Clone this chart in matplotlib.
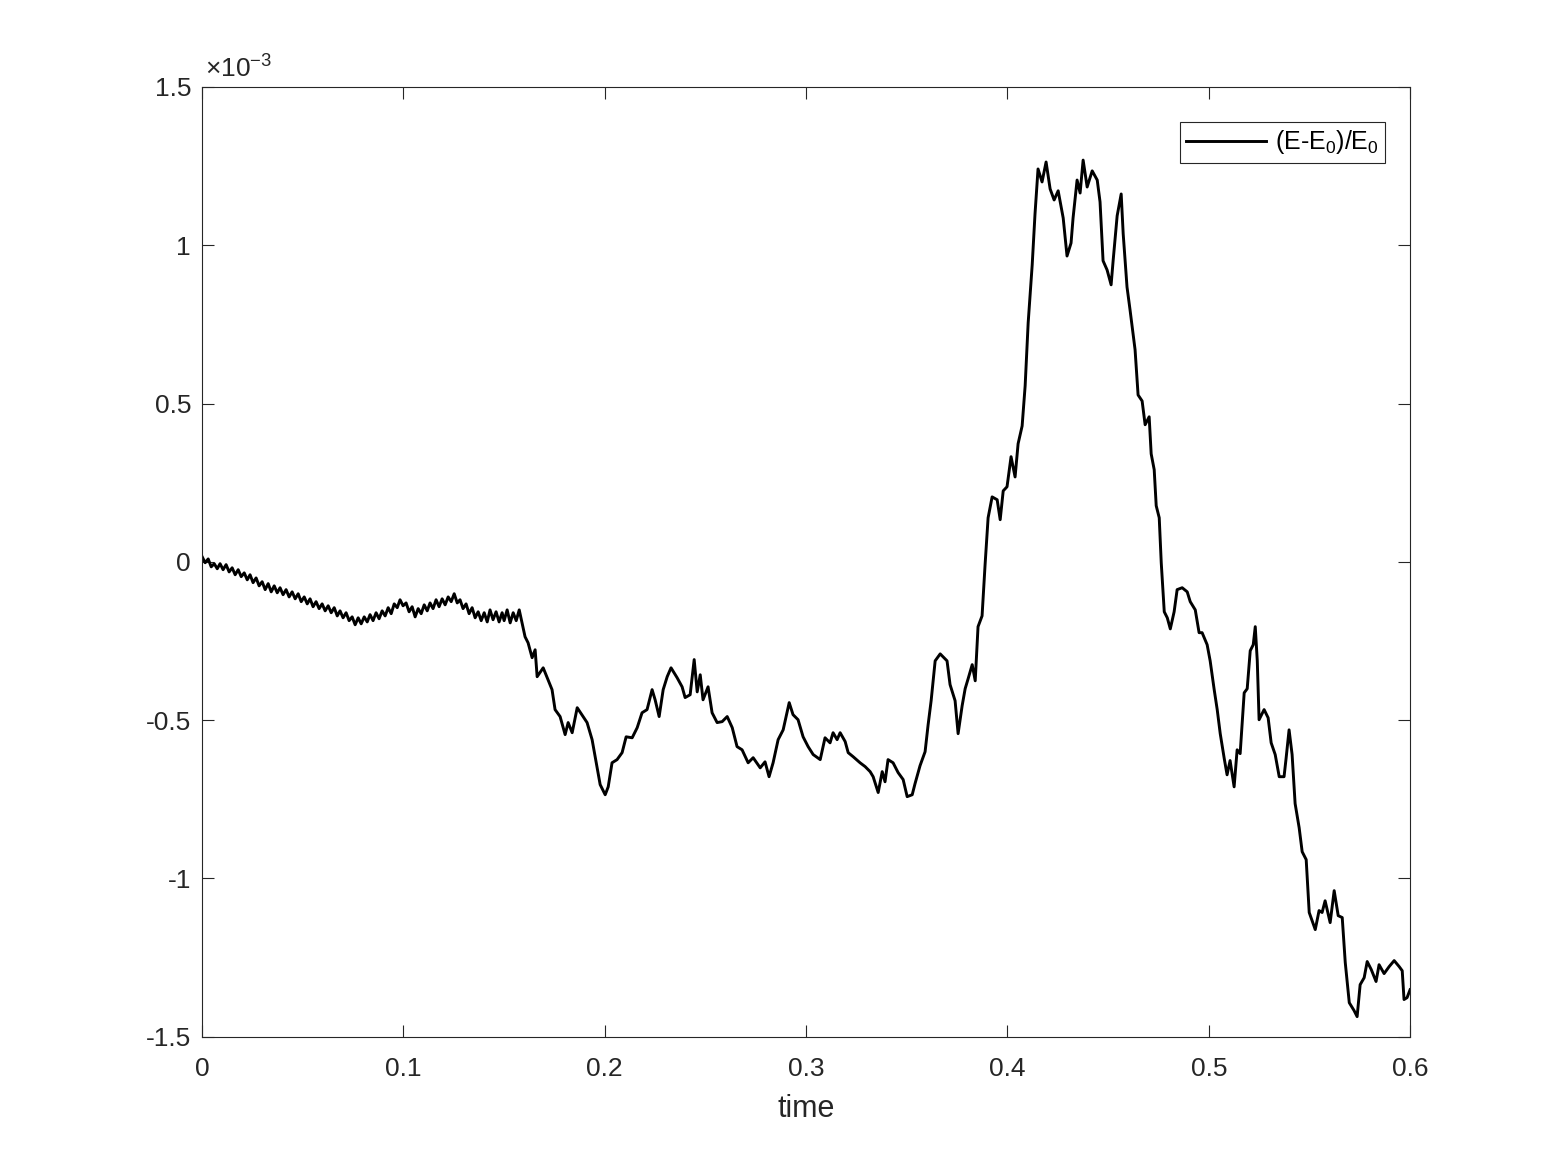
import matplotlib
matplotlib.use("Agg")
import matplotlib.pyplot as plt
from matplotlib.ticker import FuncFormatter

plt.rcParams['font.family'] = ['Liberation Sans', 'DejaVu Sans']
plt.rcParams['mathtext.fontset'] = 'custom'
plt.rcParams['mathtext.rm'] = 'Liberation Sans'
plt.rcParams['mathtext.it'] = 'Liberation Sans'
plt.rcParams['axes.unicode_minus'] = False

# time values
time = [
    0.0000, 0.0015, 0.0030, 0.0045, 0.0060, 0.0075, 0.0089, 0.0104, 0.0119, 0.0134,
    0.0149, 0.0164, 0.0179, 0.0194, 0.0209, 0.0224, 0.0238, 0.0253, 0.0268, 0.0283,
    0.0298, 0.0313, 0.0328, 0.0343, 0.0358, 0.0373, 0.0387, 0.0402, 0.0417, 0.0432,
    0.0447, 0.0462, 0.0477, 0.0492, 0.0507, 0.0522, 0.0536, 0.0551, 0.0566, 0.0581,
    0.0596, 0.0611, 0.0626, 0.0641, 0.0656, 0.0671, 0.0685, 0.0700, 0.0715, 0.0730,
    0.0745, 0.0760, 0.0775, 0.0790, 0.0805, 0.0820, 0.0834, 0.0849, 0.0864, 0.0879,
    0.0894, 0.0909, 0.0924, 0.0939, 0.0954, 0.0969, 0.0983, 0.0998, 0.1013, 0.1028,
    0.1043, 0.1058, 0.1073, 0.1088, 0.1103, 0.1118, 0.1132, 0.1147, 0.1162, 0.1177,
    0.1192, 0.1207, 0.1222, 0.1237, 0.1252, 0.1267, 0.1281, 0.1296, 0.1311, 0.1326,
    0.1341, 0.1356, 0.1371, 0.1386, 0.1401, 0.1416, 0.1430, 0.1445, 0.1460, 0.1475,
    0.1490, 0.1500, 0.1515, 0.1530, 0.1545, 0.1560, 0.1575, 0.1589, 0.1604,
    0.1619, 0.1639, 0.1654, 0.1664, 0.1694, 0.1714, 0.1738, 0.1753, 0.1778, 0.1803,
    0.1818, 0.1838, 0.1863, 0.1892, 0.1912, 0.1937, 0.1952, 0.1977, 0.2002, 0.2017,
    0.2036, 0.2061, 0.2086, 0.2106, 0.2136, 0.2161, 0.2185, 0.2210, 0.2235, 0.2250,
    0.2270, 0.2290, 0.2310, 0.2329, 0.2359, 0.2384, 0.2399, 0.2424, 0.2444, 0.2459,
    0.2474, 0.2488, 0.2513, 0.2533, 0.2558, 0.2583, 0.2608, 0.2633, 0.2657, 0.2682,
    0.2712, 0.2737, 0.2772, 0.2796, 0.2816, 0.2836, 0.2861, 0.2886, 0.2916, 0.2935,
    0.2960, 0.2985, 0.3010, 0.3035, 0.3070, 0.3094, 0.3119, 0.3134, 0.3154, 0.3169,
    0.3194, 0.3209, 0.3234, 0.3268, 0.3293, 0.3318, 0.3333, 0.3358, 0.3378, 0.3392,
    0.3407, 0.3432, 0.3457, 0.3482, 0.3502, 0.3527,
    0.3541, 0.3566, 0.3591, 0.3606, 0.3621, 0.3641, 0.3666, 0.3700, 0.3715, 0.3740,
    0.3755, 0.3775, 0.3790, 0.3805, 0.3825, 0.3840, 0.3854, 0.3874, 0.3889, 0.3904,
    0.3924, 0.3949, 0.3964, 0.3979, 0.3998, 0.4018, 0.4038, 0.4053, 0.4073, 0.4088,
    0.4103, 0.4123, 0.4137, 0.4152, 0.4172, 0.4192, 0.4212, 0.4232, 0.4252, 0.4277,
    0.4296, 0.4316, 0.4326, 0.4346, 0.4361, 0.4376, 0.4396, 0.4421, 0.4446, 0.4460,
    0.4475, 0.4495, 0.4515, 0.4525, 0.4545, 0.4565, 0.4575, 0.4594, 0.4609, 0.4634,
    0.4649, 0.4669, 0.4684, 0.4704, 0.4714, 0.4729, 0.4739, 0.4754, 0.4764, 0.4779,
    0.4794, 0.4809, 0.4828, 0.4843, 0.4868, 0.4893, 0.4908, 0.4933, 0.4952, 0.4967,
    0.4992, 0.5007, 0.5027, 0.5042, 0.5057, 0.5077, 0.5091, 0.5106, 0.5126, 0.5141,
    0.5156, 0.5176, 0.5191, 0.5206, 0.5221, 0.5231, 0.5241, 0.5250, 0.5275, 0.5295,
    0.5310, 0.5330, 0.5350, 0.5374, 0.5384, 0.5399, 0.5414, 0.5429, 0.5449, 0.5464,
    0.5484, 0.5499, 0.5529, 0.5548, 0.5563, 0.5578, 0.5603, 0.5623, 0.5643, 0.5663,
    0.5678, 0.5698, 0.5722, 0.5737, 0.5752, 0.5772, 0.5787, 0.5807, 0.5831, 0.5846,
    0.5871, 0.5896, 0.5921, 0.5946, 0.5961, 0.5970, 0.5985, 0.6000,
]

# (E-E0)/E0 in units of 1e-3
rel_energy = [
    0.016, -0.003, 0.009, -0.016, -0.006, -0.022, -0.006, -0.025, -0.009, -0.032,
    -0.019, -0.041, -0.025, -0.047, -0.035, -0.057, -0.041, -0.066, -0.051, -0.076,
    -0.063, -0.088, -0.069, -0.095, -0.076, -0.098, -0.082, -0.104, -0.088, -0.111,
    -0.095, -0.117, -0.101, -0.126, -0.111, -0.133, -0.117, -0.142, -0.126, -0.148,
    -0.133, -0.155, -0.139, -0.161, -0.145, -0.171, -0.155, -0.177, -0.161, -0.186,
    -0.174, -0.199, -0.177, -0.196, -0.174, -0.190, -0.167, -0.186, -0.161, -0.180,
    -0.155, -0.171, -0.145, -0.164, -0.133, -0.145, -0.120, -0.139, -0.130, -0.158,
    -0.142, -0.174, -0.148, -0.164, -0.136, -0.155, -0.130, -0.148, -0.120, -0.142,
    -0.117, -0.136, -0.111, -0.126, -0.101, -0.130, -0.120, -0.148, -0.133, -0.164,
    -0.145, -0.177, -0.158, -0.186, -0.161, -0.190, -0.152, -0.183, -0.158, -0.190,
    -0.161, -0.186, -0.152, -0.193, -0.161, -0.186, -0.152, -0.193, -0.237,
    -0.256, -0.303, -0.278, -0.363, -0.335, -0.366, -0.404, -0.467, -0.489, -0.546,
    -0.508, -0.540, -0.461, -0.489, -0.508, -0.562, -0.616, -0.704, -0.736, -0.711,
    -0.635, -0.625, -0.603, -0.553, -0.556, -0.524, -0.477, -0.467, -0.404, -0.436,
    -0.489, -0.404, -0.363, -0.335, -0.366, -0.395, -0.429, -0.420, -0.309, -0.411,
    -0.357, -0.436, -0.395, -0.477, -0.508, -0.505, -0.489, -0.524, -0.584, -0.594,
    -0.635, -0.619, -0.651, -0.632, -0.679, -0.635, -0.562, -0.531, -0.445, -0.483,
    -0.499, -0.553, -0.584, -0.609, -0.625, -0.556, -0.572, -0.540, -0.562, -0.540,
    -0.568, -0.603, -0.616, -0.635, -0.647, -0.663, -0.679, -0.729, -0.663, -0.695,
    -0.625, -0.635, -0.666, -0.688, -0.742, -0.736,
    -0.701, -0.644, -0.600, -0.515, -0.439, -0.313, -0.291, -0.313, -0.388, -0.439,
    -0.543, -0.455, -0.401, -0.369, -0.325, -0.376, -0.205, -0.171, -0.009, 0.139,
    0.205, 0.196, 0.133, 0.224, 0.237, 0.332, 0.268, 0.373, 0.429, 0.556,
    0.755, 0.938, 1.099, 1.241, 1.200, 1.263, 1.178, 1.143, 1.172, 1.086,
    0.966, 1.007, 1.086, 1.206, 1.165, 1.269, 1.184, 1.235, 1.206, 1.137,
    0.951, 0.922, 0.875, 0.951, 1.093, 1.162, 1.036, 0.868, 0.796, 0.670,
    0.527, 0.508, 0.433, 0.458, 0.341, 0.291, 0.177, 0.139, -0.003, -0.158,
    -0.177, -0.212, -0.158, -0.088, -0.082, -0.095, -0.126, -0.152, -0.224, -0.224,
    -0.262, -0.313, -0.404, -0.467, -0.543, -0.622, -0.673, -0.628, -0.711, -0.594,
    -0.606, -0.414, -0.401, -0.281, -0.262, -0.205, -0.313, -0.499, -0.467, -0.493,
    -0.572, -0.609, -0.679, -0.679, -0.622, -0.531, -0.609, -0.764, -0.840, -0.916,
    -0.941, -1.108, -1.162, -1.102, -1.108, -1.071, -1.140, -1.039, -1.118, -1.124,
    -1.266, -1.393, -1.418, -1.437, -1.336, -1.314, -1.263, -1.288, -1.326, -1.273,
    -1.301, -1.279, -1.260, -1.279, -1.292, -1.383, -1.377, -1.352,
]

x_ticks = [0, 0.1, 0.2, 0.3, 0.4, 0.5, 0.6]
y_ticks = [-1.5e-3, -1e-3, -0.5e-3, 0, 0.5e-3, 1e-3, 1.5e-3]

fig = plt.figure(figsize=(15.55, 11.66), dpi=100)
ax = fig.add_axes([0.13, 0.111, 0.7768, 0.8144])

ax.plot(time, [v * 1e-3 for v in rel_energy], color='black', linewidth=2.1,
        label='(E-E$_0$)/E$_0$')

ax.set_xlim(0, 0.6)
ax.set_ylim(-1.5e-3, 1.5e-3)
ax.set_xticks(x_ticks)
ax.set_yticks(y_ticks)
ax.xaxis.set_major_formatter(FuncFormatter(lambda v, p: '%g' % round(v, 6)))
ax.yaxis.set_major_formatter(FuncFormatter(lambda v, p: '%g' % round(v * 1e3, 6)))

for s in ax.spines.values():
    s.set_color('0.15')
    s.set_linewidth(0.8)
ax.tick_params(direction='in', top=True, right=True, length=8.5, width=0.8,
               colors='0.15', labelsize=19)
ax.tick_params(axis='x', pad=15)
ax.tick_params(axis='y', pad=8)
ax.set_xlabel('time', fontsize=22, color='0.15', labelpad=9)

ax.text(0.002, 1.0095, r'$\times$10$^{-3}$', transform=ax.transAxes,
        fontsize=19, color='0.15', ha='left', va='baseline')

leg = ax.legend(loc='upper right', bbox_to_anchor=(0.979, 0.963), borderaxespad=0,
                fontsize=18, handlelength=3.2, handletextpad=0.35, borderpad=0.25,
                fancybox=False, framealpha=1)
leg.get_frame().set_edgecolor('0.15')
leg.get_frame().set_linewidth(0.8)

fig.savefig('out.png', dpi=100)
